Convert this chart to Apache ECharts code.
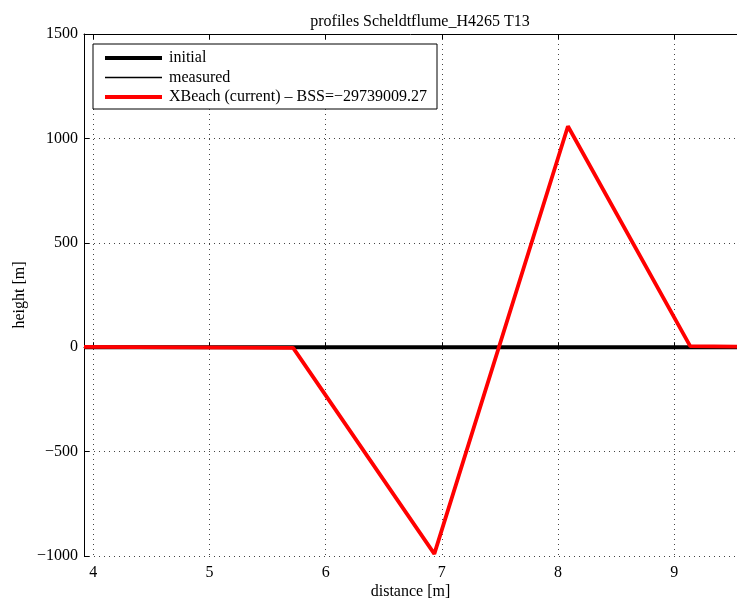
<!DOCTYPE html>
<html>
<head>
<meta charset="utf-8">
<script src="https://cdn.jsdelivr.net/npm/echarts@6/dist/echarts.min.js"></script>
<style>html,body{margin:0;padding:0;background:#fff}#c{width:737px;height:604px}</style>
</head>
<body>
<div id="c"></div>
<script>
const titleText = 'profiles Scheldtflume_H4265 T13';
const xName = 'distance [m]';
const yName = 'height [m]';
const seriesNames = ['initial', 'measured', 'XBeach (current) \u2013 BSS=\u221229739009.27'];
const initialX = [3.92, 9.54];
const initialY = [0, 0];
const measuredX = [3.92, 9.54];
const measuredY = [0, 0];
const xbeachX = [3.92, 5.72, 6.935, 8.085, 9.137, 9.54];
const xbeachY = [2, -3, -990, 1058, 5, 3];
const xMin = 3.92, xMax = 9.54;
const yMin = -1000, yMax = 1500, yStep = 500;

const font = 'Liberation Serif';
const zip = (xs, ys) => xs.map((x, i) => [x, ys[i]]);
const chart = echarts.init(document.getElementById('c'));
chart.setOption({
  animation: false,
  backgroundColor: '#fff',
  title: {text: titleText, left: 415, top: 9, textAlign: 'center',
    textStyle: {fontFamily: font, fontSize: 16, fontWeight: 'normal', color: '#000'}},
  grid: {left: 84, right: 0, top: 34, bottom: 48, containLabel: false, outerBoundsMode: 'none'},
  legend: {
    orient: 'vertical', left: 93, top: 44,
    backgroundColor: '#fff', borderColor: '#000', borderWidth: 1,
    padding: [6, 10, 4, 12], itemGap: 3.5, itemWidth: 57, itemHeight: 16,
    textStyle: {fontFamily: font, fontSize: 16, color: '#000', padding: [0, 0, 0, 2]},
    data: [
      {name: seriesNames[0], icon: 'path://M0,0h57v4h-57z'},
      {name: seriesNames[1], icon: 'path://M0,0h57v1.5h-57z'},
      {name: seriesNames[2], icon: 'path://M0,0h57v4h-57z'}
    ]
  },
  xAxis: [{
    type: 'value', min: xMin, max: xMax, position: 'bottom',
    name: xName, nameLocation: 'middle', nameGap: 28, nameMoveOverlap: false,
    nameTextStyle: {fontFamily: font, fontSize: 16, color: '#000'},
    axisLine: {show: true, lineStyle: {color: '#000', width: 1}},
    axisTick: {show: true, inside: true, length: 5, lineStyle: {color: '#000'}},
    axisLabel: {fontFamily: font, fontSize: 16, color: '#000', margin: 9, showMinLabel: false, showMaxLabel: false},
    splitLine: {show: true, lineStyle: {color: '#444', type: [1, 4], width: 1}}
  }, {
    type: 'value', min: xMin, max: xMax, position: 'top',
    axisLine: {show: true, lineStyle: {color: '#000', width: 1}},
    axisTick: {show: true, inside: true, length: 5, lineStyle: {color: '#000'}},
    axisLabel: {show: false}, splitLine: {show: false}
  }],
  yAxis: [{
    type: 'value', min: yMin, max: yMax, interval: yStep,
    name: yName, nameLocation: 'middle', nameGap: 56, nameRotate: 90, nameMoveOverlap: false,
    nameTextStyle: {fontFamily: font, fontSize: 16, color: '#000'},
    axisLine: {show: true, lineStyle: {color: '#000', width: 1}},
    axisTick: {show: true, inside: true, length: 5, lineStyle: {color: '#000'}},
    axisLabel: {fontFamily: font, fontSize: 16, color: '#000', margin: 6,
      formatter: v => (v < 0 ? '\u2212' + Math.abs(v) : String(v))},
    splitLine: {show: true, lineStyle: {color: '#444', type: [1, 4], width: 1}}
  }],
  series: [
    {name: seriesNames[0], type: 'line', data: zip(initialX, initialY), symbol: 'none',
      lineStyle: {color: '#000', width: 4}, itemStyle: {color: '#000'}, z: 2},
    {name: seriesNames[1], type: 'line', data: zip(measuredX, measuredY), symbol: 'none',
      lineStyle: {color: '#000', width: 1.5}, itemStyle: {color: '#000'}, z: 3},
    {name: seriesNames[2], type: 'line', data: zip(xbeachX, xbeachY), symbol: 'none',
      lineStyle: {color: '#ff0000', width: 3.8}, itemStyle: {color: '#ff0000'}, z: 4}
  ]
});
</script>
</body>
</html>
